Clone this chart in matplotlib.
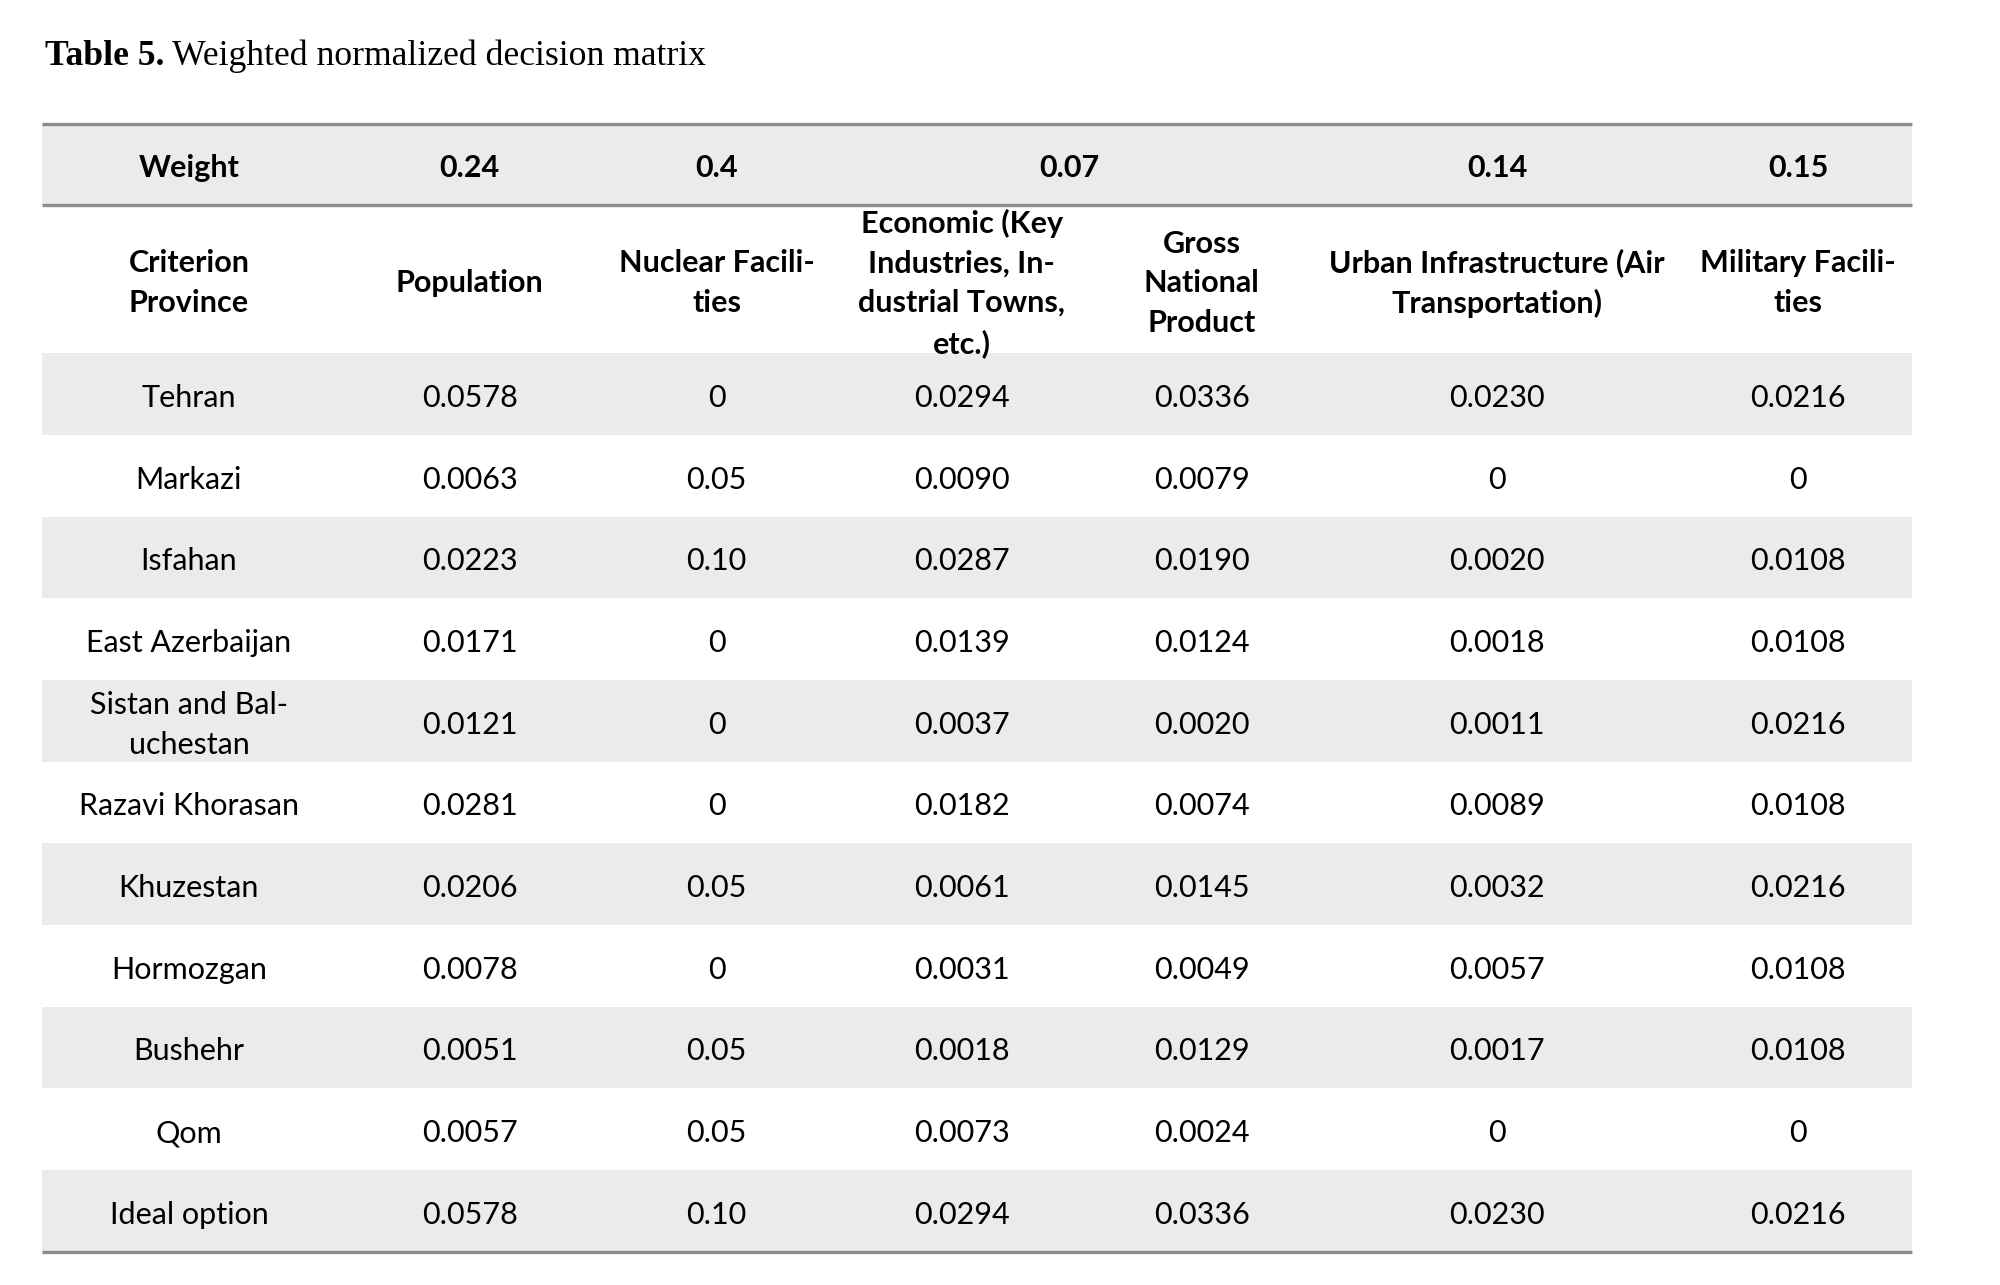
import matplotlib.pyplot as plt

# ===== Table data ============
provinces = ["Tehran", "Markazi", "Isfahan", "East Azerbaijan",
             "Sistan and Bal-\nuchestan", "Razavi Khorasan", "Khuzestan",
             "Hormozgan", "Bushehr", "Qom", "Ideal option"]

criteria = ["Population", "Nuclear Facili-\nties",
            "Economic (Key\nIndustries, In-\ndustrial Towns,\netc.)",
            "Gross\nNational\nProduct", "Urban Infrastructure (Air\nTransportation)",
            "Military Facili-\nties"]

weights = ["0.24", "0.4", "0.07", "0.14", "0.15"]
weight_span = [(0, 1), (1, 2), (2, 4), (4, 5), (5, 6)]   # criterion columns covered by each weight

population = ["0.0578", "0.0063", "0.0223", "0.0171", "0.0121", "0.0281",
              "0.0206", "0.0078", "0.0051", "0.0057", "0.0578"]
nuclear = ["0", "0.05", "0.10", "0", "0", "0", "0.05", "0", "0.05", "0.05", "0.10"]
economic = ["0.0294", "0.0090", "0.0287", "0.0139", "0.0037", "0.0182",
            "0.0061", "0.0031", "0.0018", "0.0073", "0.0294"]
gnp = ["0.0336", "0.0079", "0.0190", "0.0124", "0.0020", "0.0074",
       "0.0145", "0.0049", "0.0129", "0.0024", "0.0336"]
urban = ["0.0230", "0", "0.0020", "0.0018", "0.0011", "0.0089",
         "0.0032", "0.0057", "0.0017", "0", "0.0230"]
military = ["0.0216", "0", "0.0108", "0.0108", "0.0216", "0.0108",
            "0.0216", "0.0108", "0.0108", "0", "0.0216"]
columns = [population, nuclear, economic, gnp, urban, military]

# ===== Layout (page units) ============
col_edges = [33, 263, 473, 650, 857, 1026, 1320, 1498]
weight_top, header_top, body_top, row_h = 97, 161, 277, 64

GRAY = "#ebebeb"
RULE = "#8c8c8c"
FONT = "Lato"
FS = 22
LS = 1.51
DY = 3   # optical shift of centred text

fig = plt.figure(figsize=(20, 12.85), dpi=100)
ax = fig.add_axes([0, 0, 1, 1])
ax.set_xlim(0, 1567)
ax.set_ylim(1007, 0)
ax.axis("off")

x0, x1 = col_edges[0], col_edges[-1]
centers = [(a + b) / 2 for a, b in zip(col_edges[:-1], col_edges[1:])]

# title
ax.text(35, 51, "Table 5.", fontfamily="Liberation Serif", fontweight="bold",
        fontsize=25.7, ha="left", va="baseline")
ax.text(135, 51, "Weighted normalized decision matrix", fontfamily="Liberation Serif",
        fontsize=25.7, ha="left", va="baseline")

# weight row
ax.fill_between([x0, x1], weight_top, header_top, color=GRAY, lw=0)
yw = (weight_top + header_top) / 2 + DY
ax.text(centers[0], yw, "Weight", fontfamily=FONT,
        fontweight="bold", fontsize=FS, ha="center", va="center")
for w, (a, b) in zip(weights, weight_span):
    xc = (col_edges[a + 1] + col_edges[b + 1]) / 2
    ax.text(xc, yw, w, fontfamily=FONT,
            fontweight="bold", fontsize=FS, ha="center", va="center")

# header row
yh = (header_top + body_top) / 2 + DY
ax.text(centers[0], yh, "Criterion\nProvince", fontfamily=FONT, fontweight="bold",
        fontsize=FS, ha="center", va="center", linespacing=LS)
for i, c in enumerate(criteria):
    ax.text(centers[i + 1], yh, c, fontfamily=FONT, fontweight="bold", fontsize=FS,
            ha="center", va="center", multialignment="center", linespacing=LS)

# body rows
for r, name in enumerate(provinces):
    top = body_top + r * row_h
    if r % 2 == 0:
        ax.fill_between([x0, x1], top, top + row_h, color=GRAY, lw=0)
    yc = top + row_h / 2 + DY
    ax.text(centers[0], yc, name, fontfamily=FONT, fontsize=FS, ha="center",
            va="center", multialignment="center", linespacing=LS)
    for i, col in enumerate(columns):
        ax.text(centers[i + 1], yc, col[r], fontfamily=FONT, fontsize=FS,
                ha="center", va="center")

# rules
bottom = body_top + len(provinces) * row_h
for y in [weight_top, header_top, bottom]:
    ax.plot([x0, x1], [y, y], color=RULE, lw=2.4, solid_capstyle="butt")

fig.savefig("out.png", dpi=100, facecolor="white")
